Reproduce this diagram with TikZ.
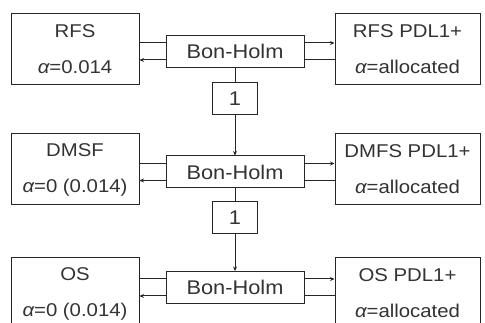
\documentclass[tikz,border=0pt]{standalone}
\usepackage{fontspec}
\setmainfont{Liberation Sans}[FakeStretch=1.1]
\usetikzlibrary{arrows.meta}
\begin{document}
\begin{tikzpicture}[x=1pt,y=-1pt,
  box/.style={draw=black!85, line width=1pt, inner sep=0pt, align=center, text=black!80,
    font=\fontsize{18.5}{36}\selectfont},
  sidebox/.style={box, minimum height=71pt},
  lbox/.style={sidebox, minimum width=128pt},
  rbox/.style={sidebox, minimum width=145pt},
  bhbox/.style={box, minimum width=138pt, minimum height=32pt, font=\fontsize{19.8}{24}\selectfont},
  onebox/.style={box, minimum width=45pt, minimum height=32pt, font=\fontsize{19.8}{24}\selectfont},
  conn/.style={draw=black!85, line width=1pt},
  tip/.style={-{Stealth[length=4.5pt,width=4pt]}}]
\useasboundingbox (0,0) rectangle (485,323);
\clip (0,0) rectangle (485,323);
\fill[white] (0,0) rectangle (485,323);

% left boxes
\node[lbox] (L1) at (75,49.5) {RFS\\{\itshape α}=0.014};
\node[lbox] (L2) at (75,169.5) {DMSF\\{\itshape α}=0 (0.014)};
\node[lbox] (L3) at (75,293.5) {OS\\{\itshape α}=0 (0.014)};

% right boxes
\node[rbox] (R1) at (407.5,49.5) {RFS PDL1+\\{\itshape α}=allocated};
\node[rbox] (R2) at (407.5,169.5) {DMFS PDL1+\\{\itshape α}=allocated};
\node[rbox] (R3) at (407.5,293.5) {OS PDL1+\\{\itshape α}=allocated};

% Bon-Holm boxes
\node[bhbox] (B1) at (235,51.5) {Bon-Holm};
\node[bhbox] (B2) at (235,172) {Bon-Holm};
\node[bhbox] (B3) at (235,287.5) {Bon-Holm};

% "1" boxes
\node[onebox] (O1) at (235,99) {1};
\node[onebox] (O2) at (235,217.5) {1};

% horizontal connectors
\foreach \i in {1,2,3}{
  \coordinate (lu\i) at ([yshift=8.5pt]B\i.west);
  \coordinate (ld\i) at ([yshift=-8.5pt]B\i.west);
  \coordinate (ru\i) at ([yshift=8.5pt]B\i.east);
  \coordinate (rd\i) at ([yshift=-8.5pt]B\i.east);
  \draw[conn] (lu\i) -- (lu\i -| L\i.east);
  \draw[conn,tip] (ld\i) -- (ld\i -| L\i.east);
  \draw[conn,tip] (ru\i) -- (ru\i -| R\i.west);
  \draw[conn] (rd\i) -- (rd\i -| R\i.west);
}

% vertical connectors
\draw[conn] (B1.south) -- (O1.north);
\draw[conn,tip] (O1.south) -- (B2.north);
\draw[conn] (B2.south) -- (O2.north);
\draw[conn,tip] (O2.south) -- (B3.north);
\end{tikzpicture}
\end{document}
